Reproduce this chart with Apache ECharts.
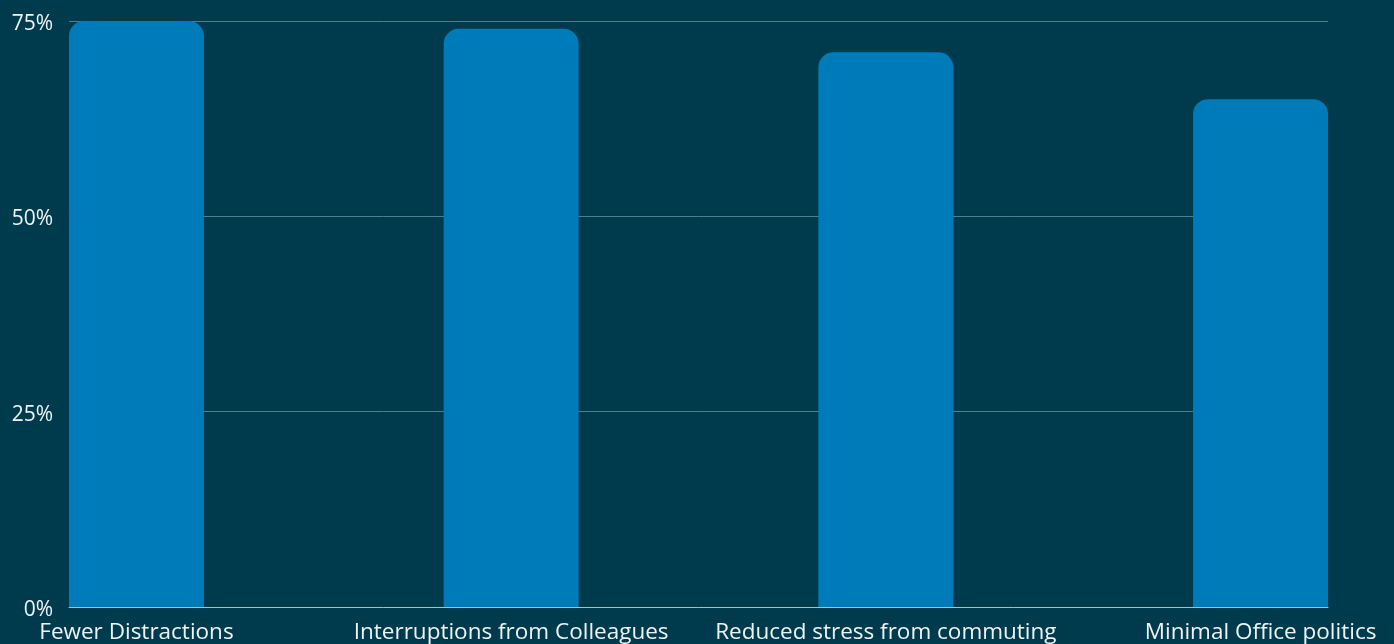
<!DOCTYPE html>
<html>
<head>
<meta charset="utf-8">
<script src="https://cdn.jsdelivr.net/npm/echarts@6/dist/echarts.min.js"></script>
<style>
html,body{margin:0;padding:0;background:#003a4d;}
#c{width:1394px;height:644px;}
</style>
</head>
<body>
<div id="c"></div>
<script>
const categories = ["Fewer Distractions", "Interruptions from Colleagues", "Reduced stress from commuting", "Minimal Office politics"];
const values = [75, 74, 71, 65];
const yTicks = [0, 25, 50, 75];

const chart = echarts.init(document.getElementById('c'));
const positions = categories.map((_, i) => i);
chart.setOption({
  backgroundColor: '#003a4d',
  animation: false,
  grid: { left: 69, right: 66, top: 21, bottom: 37 },
  xAxis: {
    type: 'value',
    min: -0.18,
    max: 3.18,
    splitLine: { show: false },
    axisLine: { show: true, lineStyle: { color: '#a9bfc6', width: 1 } },
    axisTick: { show: false },
    axisLabel: {
      customValues: positions,
      formatter: v => categories[Math.round(v)] || '',
      color: '#eef3f5',
      fontFamily: 'Open Sans',
      fontSize: 22.5,
      margin: 14
    }
  },
  yAxis: {
    type: 'value',
    min: 0,
    max: 75,
    interval: 25,
    axisLine: { show: false },
    axisTick: { show: false },
    splitLine: { lineStyle: { color: '#4f7f8c', width: 1 } },
    axisLabel: {
      formatter: v => '{a|' + v + '%}',
      color: '#eef3f5',
      fontFamily: 'Open Sans',
      fontSize: 21,
      margin: 16,
      rich: {
        a: { color: '#eef3f5', fontFamily: 'Open Sans', fontSize: 21, padding: [6, 0, 0, 0] }
      }
    }
  },
  series: [{
    type: 'bar',
    barWidth: 135,
    data: values.map((v, i) => [positions[i], v]),
    itemStyle: { color: '#007bb9', borderRadius: [15, 15, 0, 0] }
  }]
});
</script>
</body>
</html>
